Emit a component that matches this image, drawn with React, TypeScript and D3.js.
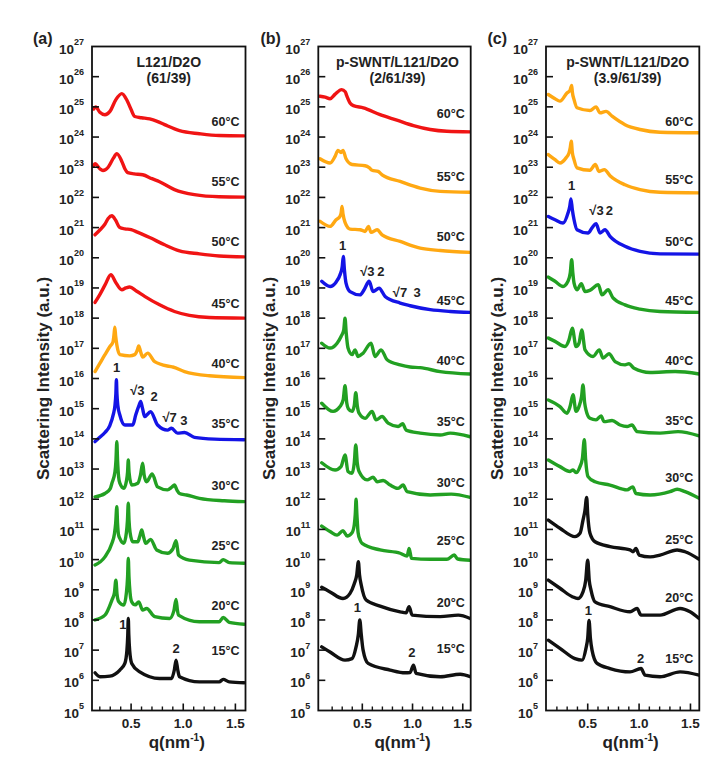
import React from 'react';
import * as d3 from 'd3';

type Pt = [number, number]; // [q (nm^-1), log10 intensity]

const temperatures = ['60°C', '55°C', '50°C', '45°C', '40°C', '35°C', '30°C', '25°C', '20°C', '15°C'];
const yExponents = d3.range(5, 28);
const xMajorTicks = [0.5, 1.0, 1.5];
const xMinorTicks = [0.2, 0.3, 0.4, 0.6, 0.7, 0.8, 0.9, 1.1, 1.2, 1.3, 1.4];

// ---------- panel (a): L121/D2O (61/39) ----------
const a60: Pt[] = [[0.14, 24.93], [0.16, 25.0], [0.2, 24.82], [0.249, 24.74], [0.297, 24.85], [0.354, 25.24], [0.411, 25.44], [0.46, 25.22], [0.5, 24.91], [0.535, 24.68], [0.6, 24.64], [0.678, 24.6], [0.75, 24.52], [0.821, 24.41], [0.964, 24.21], [1.155, 24.11], [1.345, 24.05], [1.585, 24.04]];
const a55: Pt[] = [[0.14, 23.05], [0.154, 23.12], [0.2, 22.95], [0.23, 22.89], [0.28, 23.0], [0.33, 23.3], [0.363, 23.45], [0.41, 23.2], [0.44, 22.95], [0.468, 22.82], [0.53, 22.78], [0.611, 22.75], [0.7, 22.62], [0.773, 22.52], [0.916, 22.26], [1.107, 22.09], [1.345, 22.02], [1.585, 22.01]];
const a50: Pt[] = [[0.154, 20.76], [0.2, 20.92], [0.25, 21.12], [0.28, 21.3], [0.316, 21.39], [0.35, 21.25], [0.392, 21.0], [0.44, 20.96], [0.5, 20.93], [0.56, 20.85], [0.678, 20.67], [0.821, 20.43], [0.964, 20.23], [1.155, 20.13], [1.345, 20.06], [1.585, 20.03]];
const a45: Pt[] = [[0.154, 18.52], [0.2, 18.78], [0.25, 19.1], [0.306, 19.44], [0.35, 19.2], [0.411, 18.94], [0.45, 19.0], [0.487, 19.03], [0.55, 18.9], [0.63, 18.72], [0.773, 18.44], [0.916, 18.22], [1.059, 18.09], [1.25, 18.02], [1.585, 18.0]];
const a40: Pt[] = [[0.154, 16.23], [0.2, 16.5], [0.249, 16.79], [0.297, 17.06], [0.325, 17.2], [0.336, 17.45], [0.344, 17.7], [0.352, 17.4], [0.363, 17.12], [0.392, 16.79], [0.487, 16.75], [0.535, 16.79], [0.56, 16.95], [0.573, 17.08], [0.59, 16.9], [0.611, 16.71], [0.659, 16.84], [0.726, 16.56], [0.869, 16.4], [0.9, 16.38], [1.012, 16.23], [1.25, 16.09], [1.585, 16.03]];
const a35: Pt[] = [[0.154, 13.91], [0.2, 14.05], [0.249, 14.21], [0.297, 14.45], [0.33, 14.82], [0.345, 15.1], [0.354, 15.5], [0.359, 15.96], [0.364, 15.5], [0.373, 15.1], [0.392, 14.79], [0.44, 14.46], [0.516, 14.46], [0.544, 14.79], [0.575, 15.1], [0.592, 15.24], [0.61, 15.0], [0.63, 14.74], [0.687, 14.9], [0.754, 14.46], [0.849, 14.29], [0.888, 14.35], [0.945, 14.19], [1.012, 14.21], [1.107, 14.05], [1.3, 13.99], [1.585, 13.97]];
const a30: Pt[] = [[0.154, 12.08], [0.249, 12.19], [0.3, 12.35], [0.316, 12.53], [0.345, 12.9], [0.355, 13.3], [0.363, 13.91], [0.37, 13.3], [0.38, 12.75], [0.392, 12.53], [0.43, 12.36], [0.455, 12.6], [0.466, 12.9], [0.473, 13.3], [0.48, 12.9], [0.506, 12.47], [0.564, 12.53], [0.59, 12.8], [0.611, 13.19], [0.625, 12.8], [0.649, 12.58], [0.702, 12.84], [0.754, 12.41], [0.849, 12.31], [0.89, 12.4], [0.916, 12.47], [0.94, 12.3], [0.964, 12.19], [1.031, 12.14], [1.155, 12.03], [1.393, 11.95], [1.585, 11.92]];
const a25: Pt[] = [[0.154, 9.82], [0.249, 10.09], [0.316, 10.54], [0.34, 10.85], [0.352, 11.2], [0.363, 11.75], [0.37, 11.2], [0.378, 10.85], [0.392, 10.7], [0.43, 10.54], [0.455, 10.9], [0.465, 11.3], [0.473, 11.87], [0.48, 11.3], [0.49, 10.9], [0.516, 10.59], [0.564, 10.59], [0.585, 10.8], [0.602, 10.98], [0.62, 10.75], [0.64, 10.54], [0.687, 10.67], [0.745, 10.32], [0.849, 10.21], [0.9, 10.35], [0.931, 10.63], [0.945, 10.35], [0.954, 10.15], [1.059, 9.98], [1.345, 9.9], [1.383, 10.0], [1.441, 9.9], [1.585, 9.88]];
const a20: Pt[] = [[0.154, 8.0], [0.249, 8.16], [0.316, 8.66], [0.34, 8.9], [0.354, 9.32], [0.365, 8.85], [0.382, 8.6], [0.43, 8.49], [0.455, 8.9], [0.466, 9.4], [0.473, 10.04], [0.48, 9.4], [0.49, 8.9], [0.506, 8.6], [0.54, 8.5], [0.573, 8.6], [0.611, 8.33], [0.649, 8.38], [0.726, 8.11], [0.869, 8.05], [0.91, 8.3], [0.931, 8.68], [0.945, 8.3], [0.954, 8.16], [1.155, 7.94], [1.345, 7.94], [1.383, 8.08], [1.441, 7.92], [1.585, 7.86]];
const a15: Pt[] = [[0.154, 6.25], [0.201, 6.12], [0.297, 6.14], [0.392, 6.34], [0.44, 6.56], [0.46, 7.0], [0.468, 7.5], [0.473, 8.05], [0.478, 7.5], [0.486, 7.0], [0.506, 6.56], [0.583, 6.28], [0.773, 6.06], [0.888, 6.06], [0.915, 6.35], [0.931, 6.67], [0.947, 6.35], [0.964, 6.12], [1.155, 5.95], [1.345, 5.95], [1.383, 6.03], [1.441, 5.95], [1.585, 5.92]];

// ---------- panel (b): p-SWNT/L121/D2O (2/61/39) ----------
const b60: Pt[] = [[0.079, 25.35], [0.13, 25.32], [0.179, 25.27], [0.23, 25.42], [0.295, 25.57], [0.33, 25.5], [0.345, 25.37], [0.38, 25.12], [0.411, 25.04], [0.511, 24.97], [0.677, 24.74], [0.844, 24.56], [1.009, 24.38], [1.176, 24.25], [1.342, 24.19], [1.574, 24.17]];
const b55: Pt[] = [[0.079, 23.28], [0.179, 23.14], [0.229, 23.36], [0.258, 23.56], [0.288, 23.49], [0.308, 23.56], [0.338, 23.28], [0.398, 23.09], [0.528, 23.05], [0.568, 22.99], [0.597, 22.9], [0.657, 22.86], [0.697, 22.75], [0.877, 22.53], [1.076, 22.31], [1.275, 22.2], [1.574, 22.17]];
const b50: Pt[] = [[0.079, 21.21], [0.179, 21.04], [0.239, 21.26], [0.278, 21.37], [0.29, 21.5], [0.298, 21.7], [0.308, 21.45], [0.328, 21.17], [0.378, 20.95], [0.478, 20.93], [0.528, 20.87], [0.561, 21.04], [0.587, 20.84], [0.647, 20.93], [0.697, 20.76], [0.877, 20.54], [1.076, 20.32], [1.275, 20.24], [1.574, 20.18]];
const b45: Pt[] = [[0.096, 19.22], [0.179, 19.05], [0.24, 19.2], [0.28, 19.45], [0.3, 19.7], [0.311, 20.04], [0.322, 19.6], [0.338, 19.16], [0.378, 18.88], [0.478, 18.77], [0.518, 18.94], [0.568, 19.22], [0.607, 18.88], [0.667, 18.99], [0.727, 18.72], [0.877, 18.5], [0.976, 18.41], [1.176, 18.28], [1.375, 18.22], [1.574, 18.19]];
const b40: Pt[] = [[0.096, 17.17], [0.179, 17.01], [0.249, 17.17], [0.29, 17.4], [0.315, 17.6], [0.328, 18.0], [0.34, 17.5], [0.358, 17.01], [0.398, 16.79], [0.428, 16.95], [0.458, 16.73], [0.508, 16.84], [0.587, 17.17], [0.627, 16.73], [0.687, 16.95], [0.747, 16.62], [0.877, 16.45], [0.976, 16.38], [1.076, 16.36], [1.275, 16.23], [1.574, 16.15]];
const b35: Pt[] = [[0.096, 15.18], [0.209, 14.91], [0.278, 15.07], [0.31, 15.3], [0.328, 15.76], [0.345, 15.2], [0.361, 15.0], [0.398, 14.91], [0.42, 15.1], [0.435, 15.53], [0.45, 15.1], [0.468, 14.85], [0.528, 14.68], [0.597, 14.91], [0.637, 14.63], [0.697, 14.74], [0.757, 14.52], [0.857, 14.41], [0.902, 14.5], [0.936, 14.29], [1.076, 14.19], [1.275, 14.13], [1.375, 14.19], [1.574, 14.07]];
const b30: Pt[] = [[0.096, 13.21], [0.229, 12.97], [0.288, 13.08], [0.328, 13.47], [0.358, 12.92], [0.398, 12.86], [0.42, 13.2], [0.435, 13.8], [0.45, 13.2], [0.468, 12.92], [0.548, 12.64], [0.607, 12.73], [0.647, 12.58], [0.707, 12.62], [0.777, 12.47], [0.857, 12.36], [0.906, 12.47], [0.946, 12.25], [1.176, 12.14], [1.385, 12.17], [1.574, 12.06]];
const b25: Pt[] = [[0.096, 11.11], [0.179, 10.93], [0.249, 10.81], [0.308, 10.96], [0.348, 10.78], [0.398, 10.89], [0.42, 11.15], [0.43, 11.5], [0.438, 12.0], [0.446, 11.5], [0.458, 10.9], [0.478, 10.65], [0.498, 10.54], [0.677, 10.32], [0.877, 10.21], [0.946, 10.12], [0.966, 10.37], [0.99, 10.04], [1.176, 10.01], [1.342, 10.01], [1.415, 10.15], [1.45, 10.02], [1.574, 9.98]];
const b20: Pt[] = [[0.096, 9.08], [0.179, 8.93], [0.308, 8.71], [0.378, 8.88], [0.42, 9.2], [0.445, 9.5], [0.461, 9.93], [0.472, 9.5], [0.49, 9.15], [0.538, 8.66], [0.677, 8.46], [0.877, 8.27], [0.936, 8.24], [0.966, 8.44], [0.996, 8.16], [1.275, 8.11], [1.455, 8.16], [1.574, 8.05]];
const b15: Pt[] = [[0.096, 7.11], [0.179, 6.94], [0.328, 6.67], [0.398, 6.72], [0.438, 7.11], [0.46, 7.5], [0.475, 8.0], [0.49, 7.5], [0.508, 7.0], [0.558, 6.56], [0.777, 6.34], [0.926, 6.25], [0.976, 6.26], [1.009, 6.5], [1.036, 6.23], [1.275, 6.12], [1.475, 6.2], [1.574, 6.12]];

// ---------- panel (c): p-SWNT/L121/D2O (3.9/61/39) ----------
const c60: Pt[] = [[0.116, 25.41], [0.182, 25.27], [0.23, 25.19], [0.298, 25.46], [0.328, 25.55], [0.344, 25.71], [0.35, 25.5], [0.367, 25.24], [0.396, 24.97], [0.522, 24.88], [0.581, 25.0], [0.62, 24.8], [0.678, 24.85], [0.737, 24.69], [0.863, 24.41], [1.009, 24.25], [1.204, 24.16], [1.584, 24.14]];
const c55: Pt[] = [[0.116, 23.42], [0.182, 23.25], [0.23, 23.14], [0.289, 23.31], [0.318, 23.47], [0.33, 23.65], [0.34, 23.86], [0.35, 23.5], [0.367, 23.25], [0.396, 22.98], [0.522, 22.9], [0.574, 23.09], [0.61, 22.86], [0.662, 22.92], [0.717, 22.72], [0.863, 22.42], [1.009, 22.26], [1.204, 22.17], [1.584, 22.15]];
const c50: Pt[] = [[0.116, 21.37], [0.182, 21.26], [0.26, 21.15], [0.308, 21.48], [0.325, 21.7], [0.337, 21.95], [0.35, 21.6], [0.367, 21.26], [0.396, 20.93], [0.503, 20.82], [0.542, 20.99], [0.581, 21.13], [0.62, 20.82], [0.668, 20.93], [0.717, 20.71], [0.863, 20.38], [1.009, 20.21], [1.204, 20.13], [1.584, 20.12]];
const c45: Pt[] = [[0.116, 19.36], [0.182, 19.22], [0.26, 19.05], [0.308, 19.22], [0.33, 19.5], [0.344, 19.94], [0.355, 19.5], [0.367, 19.16], [0.396, 18.94], [0.438, 19.14], [0.474, 18.88], [0.52, 18.92], [0.603, 19.11], [0.639, 18.77], [0.698, 18.94], [0.746, 18.67], [0.863, 18.44], [1.009, 18.3], [1.204, 18.22], [1.584, 18.19]];
const c40: Pt[] = [[0.116, 17.34], [0.182, 17.23], [0.279, 17.06], [0.318, 17.28], [0.35, 17.67], [0.386, 17.06], [0.415, 17.17], [0.442, 17.61], [0.474, 16.95], [0.552, 16.73], [0.613, 16.95], [0.649, 16.68], [0.707, 16.82], [0.766, 16.56], [0.863, 16.45], [0.902, 16.49], [0.951, 16.34], [1.107, 16.2], [1.35, 16.23], [1.584, 16.15]];
const c35: Pt[] = [[0.116, 15.29], [0.23, 15.07], [0.298, 14.85], [0.328, 15.07], [0.357, 15.46], [0.386, 14.91], [0.415, 15.07], [0.44, 15.4], [0.454, 15.79], [0.47, 15.2], [0.483, 14.96], [0.522, 14.68], [0.581, 14.63], [0.63, 14.76], [0.659, 14.57], [0.737, 14.61], [0.815, 14.46], [0.883, 14.41], [0.931, 14.46], [0.98, 14.24], [1.204, 14.19], [1.379, 14.24], [1.584, 14.1]];
const c30: Pt[] = [[0.116, 13.3], [0.23, 13.08], [0.328, 12.92], [0.357, 12.97], [0.386, 12.88], [0.425, 13.08], [0.448, 13.35], [0.467, 13.97], [0.48, 13.3], [0.503, 12.75], [0.571, 12.58], [0.717, 12.47], [0.883, 12.31], [0.938, 12.41], [0.97, 12.19], [1.107, 12.14], [1.301, 12.25], [1.37, 12.33], [1.447, 12.25], [1.584, 12.03]];
const c25: Pt[] = [[0.116, 11.31], [0.23, 11.04], [0.376, 10.76], [0.425, 10.87], [0.454, 11.31], [0.472, 11.6], [0.49, 12.06], [0.5, 11.5], [0.522, 10.87], [0.571, 10.59], [0.717, 10.43], [0.912, 10.32], [0.941, 10.26], [0.97, 10.37], [1.0, 10.15], [1.107, 10.09], [1.204, 10.15], [1.37, 10.32], [1.447, 10.26], [1.584, 10.01]];
const c20: Pt[] = [[0.116, 9.32], [0.23, 9.05], [0.35, 8.77], [0.406, 8.71], [0.454, 8.93], [0.48, 9.3], [0.5, 9.98], [0.515, 9.3], [0.532, 8.99], [0.571, 8.6], [0.717, 8.44], [0.912, 8.27], [0.98, 8.38], [1.019, 8.16], [1.204, 8.16], [1.399, 8.38], [1.496, 8.27], [1.584, 8.05]];
const c15: Pt[] = [[0.116, 7.33], [0.23, 7.06], [0.376, 6.72], [0.445, 6.67], [0.483, 7.06], [0.5, 7.4], [0.513, 7.98], [0.526, 7.4], [0.542, 7.0], [0.591, 6.56], [0.717, 6.39], [0.912, 6.28], [1.019, 6.39], [1.058, 6.17], [1.204, 6.12], [1.399, 6.28], [1.584, 6.17]];

// temperature label heights (log10 intensity)
const labelLogsA = [24.36, 22.39, 20.38, 18.33, 16.34, 14.35, 12.31, 10.32, 8.33, 6.83];
const labelLogsB = [24.64, 22.53, 20.54, 18.44, 16.45, 14.41, 12.42, 10.48, 8.44, 6.89];
const labelLogsC = [24.36, 22.45, 20.38, 18.44, 16.45, 14.46, 12.56, 10.52, 8.6, 6.56];

// peak index annotations: [text, q, log10 I]
type Ann = [string, number, number];
const annotationsA: Ann[] = [['1', 0.36, 16.23], ['√3', 0.56, 15.46], ['2', 0.72, 15.24], ['√7', 0.869, 14.57], ['3', 1.005, 14.46], ['1', 0.421, 7.69], ['2', 0.932, 6.89]];
const annotationsB: Ann[] = [['1', 0.305, 20.27], ['√3', 0.55, 19.38], ['2', 0.685, 19.38], ['√7', 0.875, 18.7], ['3', 1.045, 18.7], ['1', 0.451, 8.27], ['2', 0.993, 6.78]];
const annotationsC: Ann[] = [['1', 0.344, 22.26], ['√3', 0.585, 21.43], ['2', 0.71, 21.43], ['1', 0.506, 8.16], ['2', 1.016, 6.56]];

const RED = '#f01414';
const ORANGE = '#ffa812';
const BLUE = '#1414e6';
const GREEN = '#22a022';
const BLACK = '#111111';

const panels = [
  {
    letter: '(a)', letterX: 33, title: ['L121/D2O', '(61/39)'], titleDx: 0,
    series: [a60, a55, a50, a45, a40, a35, a30, a25, a20, a15],
    colors: [RED, RED, RED, RED, ORANGE, BLUE, GREEN, GREEN, GREEN, BLACK],
    labelLogs: labelLogsA, annotations: annotationsA,
    domain: [0.125, 1.597], left: 92, right: 245.5,
  },
  {
    letter: '(b)', letterX: 260.5, title: ['p-SWNT/L121/D2O', '(2/61/39)'], titleDx: 3,
    series: [b60, b55, b50, b45, b40, b35, b30, b25, b20, b15],
    colors: [RED, ORANGE, ORANGE, BLUE, GREEN, GREEN, GREEN, GREEN, BLACK, BLACK],
    labelLogs: labelLogsB, annotations: annotationsB,
    domain: [0.062, 1.579], left: 318.3, right: 470.7,
  },
  {
    letter: '(c)', letterX: 487.5, title: ['p-SWNT/L121/D2O', '(3.9/61/39)'], titleDx: 5,
    series: [c60, c55, c50, c45, c40, c35, c30, c25, c20, c15],
    colors: [ORANGE, ORANGE, BLUE, GREEN, GREEN, GREEN, GREEN, BLACK, BLACK, BLACK],
    labelLogs: labelLogsC, annotations: annotationsC,
    domain: [0.094, 1.586], left: 546, right: 699.3,
  },
];

const TOP = 46.5;
const BOTTOM = 710.5;
const FONT = '"Liberation Sans", Arial, Helvetica, sans-serif';

function Panel({ p, idx }: { p: typeof panels[number]; idx: number }) {
  const x = d3.scaleLinear().domain(p.domain).range([p.left, p.right]);
  const y = d3.scaleLog().domain([1e5, 1e27]).range([BOTTOM, TOP]);
  const line = d3
    .line<Pt>()
    .x((d) => x(d[0]))
    .y((d) => y(Math.pow(10, d[1])))
    .curve(d3.curveMonotoneX);
  const cx = (p.left + p.right) / 2;
  const clipId = `clip-${idx}`;
  return (
    <g>
      <defs>
        <clipPath id={clipId}>
          <rect x={p.left} y={TOP} width={p.right - p.left} height={BOTTOM - TOP} />
        </clipPath>
      </defs>
      <g clipPath={`url(#${clipId})`}>
        {p.series.map((s, i) => (
          <path key={i} d={line(s) || ''} fill="none" stroke={p.colors[i]} strokeWidth={3.4} strokeLinejoin="round" strokeLinecap="round" />
        ))}
      </g>
      <rect x={p.left} y={TOP} width={p.right - p.left} height={BOTTOM - TOP} fill="none" stroke="#111" strokeWidth={1.8} />
      {yExponents.map((e) => {
        const yy = y(Math.pow(10, e));
        return (
          <g key={e}>
            {e > 5 && e < 27 && <line x1={p.left} x2={p.left + 7} y1={yy} y2={yy} stroke="#111" strokeWidth={1.6} />}
            <text x={p.left - 8} y={yy + 7} textAnchor="end" fontFamily={FONT} fontWeight="bold" fontSize={13.5} fill="#222">
              10<tspan dy={-8.5} fontSize={9}>{e}</tspan>
            </text>
          </g>
        );
      })}
      {xMinorTicks.map((t) => (
        <line key={'m' + t} x1={x(t)} x2={x(t)} y1={BOTTOM} y2={BOTTOM - 4} stroke="#111" strokeWidth={1.4} />
      ))}
      {xMajorTicks.map((t) => (
        <g key={'M' + t}>
          <line x1={x(t)} x2={x(t)} y1={BOTTOM} y2={BOTTOM - 7} stroke="#111" strokeWidth={1.6} />
          <text x={x(t)} y={728} textAnchor="middle" fontFamily={FONT} fontWeight="bold" fontSize={13.5} fill="#222">
            {d3.format('.1f')(t)}
          </text>
        </g>
      ))}
      {temperatures.map((t, i) => (
        <text key={t} x={p.right - 6} y={y(Math.pow(10, p.labelLogs[i]))} textAnchor="end" fontFamily={FONT} fontWeight="bold" fontSize={12.5} fill="#222">
          {t}
        </text>
      ))}
      {p.annotations.map((a, i) => (
        <text key={i} x={x(a[1])} y={y(Math.pow(10, a[2]))} textAnchor="middle" fontFamily={FONT} fontWeight="bold" fontSize={13} fill="#222">
          {a[0]}
        </text>
      ))}
      <text x={cx + p.titleDx} y={67} textAnchor="middle" fontFamily={FONT} fontWeight="bold" fontSize={14} fill="#222">
        {p.title[0]}
      </text>
      <text x={cx + p.titleDx} y={83} textAnchor="middle" fontFamily={FONT} fontWeight="bold" fontSize={14} fill="#222">
        {p.title[1]}
      </text>
      <text x={p.letterX} y={44} fontFamily={FONT} fontWeight="bold" fontSize={16} fill="#222">
        {p.letter}
      </text>
      <text transform={`translate(${p.left - 43},${(TOP + BOTTOM) / 2}) rotate(-90)`} textAnchor="middle" fontFamily={FONT} fontWeight="bold" fontSize={17} fill="#222">
        Scattering Intensity (a.u.)
      </text>
      <text x={cx + 8} y={748} textAnchor="middle" fontFamily={FONT} fontWeight="bold" fontSize={17} fill="#222">
        q(nm<tspan dy={-7} fontSize={10}>-1</tspan><tspan dy={7}>)</tspan>
      </text>
    </g>
  );
}

export default function App() {
  return (
    <svg width={721} height={774} viewBox="0 0 721 774" style={{ position: 'absolute', left: 0, top: 0, background: '#fff' }}>
      <rect x={0} y={0} width={721} height={774} fill="#fff" />
      {panels.map((p, i) => (
        <Panel key={i} p={p} idx={i} />
      ))}
    </svg>
  );
}
